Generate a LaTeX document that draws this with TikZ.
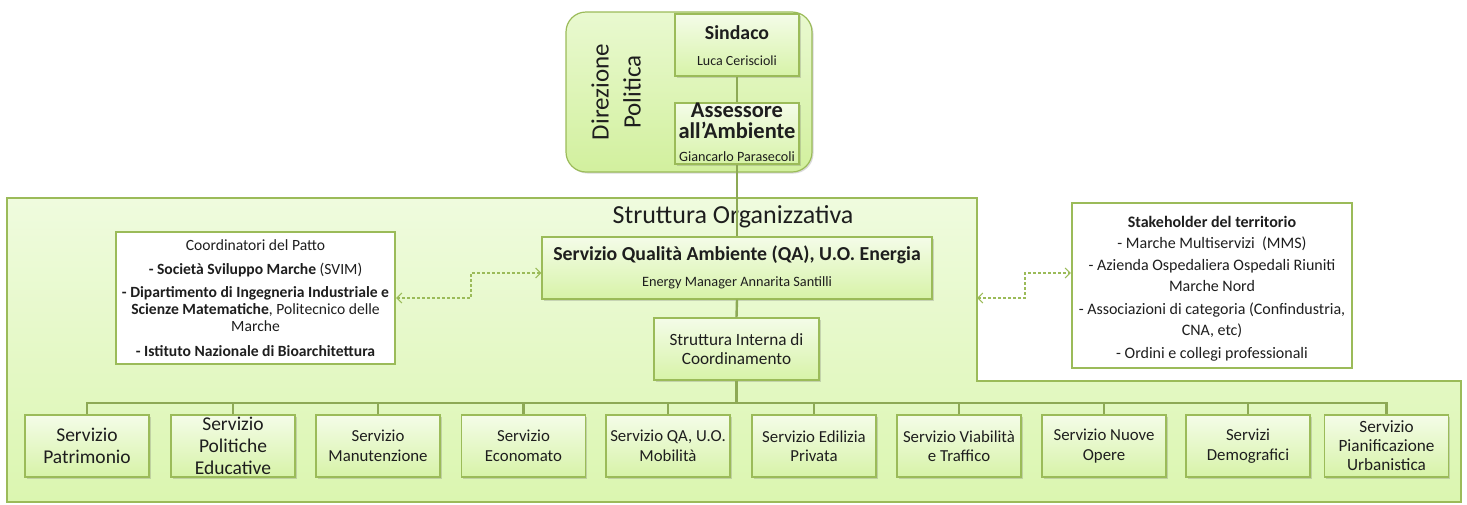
\documentclass[tikz,border=0pt]{standalone}
\usepackage{fontspec}
\setmainfont{Carlito}
\usetikzlibrary{arrows.meta,shadows}

\definecolor{ogreen}{HTML}{9BBB59}
\definecolor{linec}{HTML}{8DA955}
\definecolor{bgtop}{HTML}{EFFBDE}
\definecolor{bgbot}{HTML}{DBF6B0}
\definecolor{boxtop}{HTML}{F4FCE8}
\definecolor{boxbot}{HTML}{D7F3A8}
\definecolor{dirtop}{HTML}{E9F9D0}
\definecolor{dirbot}{HTML}{D2F09E}
\definecolor{txt}{HTML}{1E1E1E}

\newcommand\setfs[2]{\fontsize{#1}{#2}\selectfont}

\begin{document}
\begin{tikzpicture}[x=1pt,y=-1pt,
  stdbox/.style={draw=ogreen, line width=1.2pt, top color=boxtop, bottom color=boxbot,
    inner sep=0pt, align=center, text=txt,
    drop shadow={shadow xshift=1.5pt, shadow yshift=-1.5pt, opacity=0.25, fill=black!60}},
  unit/.style={stdbox, minimum width=124pt, minimum height=62pt, font=\setfs{16.8}{19.5}},
  bigunit/.style={unit, font=\setfs{19.5}{22}},
  infobox/.style={draw=ogreen, line width=2.2pt, fill=white, inner sep=0pt, align=center, text=txt},
  lbl/.style={inner sep=0pt, text=txt, align=center},
  link/.style={draw=linec, line width=1.4pt},
  bus/.style={draw=linec, line width=2.4pt},
  dasharrow/.style={draw=ogreen, line width=1.1pt, dash pattern=on 3pt off 2pt,
    {Straight Barb[length=5pt,width=10pt]}-{Straight Barb[length=5pt,width=10pt]}}
]
\useasboundingbox (0,0) rectangle (1467,504);

% organisational structure area
\path[draw=ogreen, line width=1.2pt, top color=bgtop, bottom color=bgbot]
  (7,198) -- (977,198) -- (977,381) -- (1461,381) -- (1461,502) -- (7,502) -- cycle;
\coordinate (notch) at (977,298);
\node[lbl, font=\setfs{26}{30}] (orgtitle) at (733,217) {Struttura Organizzativa};

% political direction
\node[draw=ogreen, line width=1.2pt, rounded corners=20pt, top color=dirtop, bottom color=dirbot,
  minimum width=246pt, minimum height=160pt, inner sep=0pt,
  drop shadow={shadow xshift=1.5pt, shadow yshift=-1.5pt, opacity=0.25, fill=black!60}]
  (dirpol) at (689,92) {};
\node[lbl, rotate=90, font=\setfs{25}{32}] (dirtxt) at (616,92) {Direzione\\Politica};

\node[stdbox, minimum width=124pt, minimum height=62pt] (sind) at (737,45) {};
\node[lbl, font=\setfs{19.8}{22}\bfseries] (sindt) at (737,33) {Sindaco};
\node[lbl, font=\setfs{14}{15}] (sindn) at (737,61) {Luca Ceriscioli};

\node[stdbox, minimum width=124pt, minimum height=61pt] (ass) at (737,133.5) {};
\node[lbl, font=\setfs{22.5}{21}\bfseries] (asst) at (737,121) {Assessore\\all’Ambiente};
\node[lbl, font=\setfs{14.2}{15}] (assn) at (737,157) {Giancarlo Parasecoli};

% environmental quality service
\node[stdbox, minimum width=390pt, minimum height=62pt] (qa) at (737,268) {};
\node[lbl, font=\setfs{19.8}{22}\bfseries] (qat) at (737,255) {Servizio Qualità Ambiente (QA), U.O. Energia};
\node[lbl, font=\setfs{14.3}{16}] (qan) at (737,283) {Energy Manager Annarita Santilli};

\node[stdbox, minimum width=165pt, minimum height=62pt, font=\setfs{17.2}{19}] (sic) at (736.5,349)
  {Struttura Interna di\\Coordinamento};

% partner boxes
\node[infobox, minimum width=279pt, minimum height=132pt, font=\setfs{15.6}{17}] (coord) at (255.5,298)
  {Coordinatori del Patto\\[7pt]
   \textbf{- Società Sviluppo Marche} (SVIM)\\[6.5pt]
   \textbf{- Dipartimento di Ingegneria Industriale e}\\
   \textbf{Scienze Matematiche}, Politecnico delle\\
   Marche\\[7.5pt]
   \textbf{- Istituto Nazionale di Bioarchitettura}};

\node[infobox, minimum width=280pt, minimum height=165pt] (stake) at (1212,285.5) {};
\node[lbl, font=\setfs{16}{21.5}] (staket) at (1212,288.5)
  {\textbf{Stakeholder del territorio}\\
   - Marche Multiservizi\ \ (MMS)\\
   - Azienda Ospedaliera Ospedali Riuniti\\
   Marche Nord\\[1pt]
   - Associazioni di categoria (Confindustria,\\
   CNA, etc)\\[1pt]
   - Ordini e collegi professionali};

% services
\node[bigunit] (c1) at (87,446) {Servizio\\Patrimonio};
\node[bigunit] (c2) at (233,446) {Servizio\\Politiche\\Educative};
\node[unit] (c3) at (378,446) {Servizio\\Manutenzione};
\node[unit] (c4) at (523.5,446) {Servizio\\Economato};
\node[unit] (c5) at (668,446) {Servizio QA, U.O.\\Mobilità};
\node[unit] (c6) at (814,446) {Servizio Edilizia\\Privata};
\node[unit] (c7) at (959,446) {Servizio Viabilità\\e Traffico};
\node[unit] (c8) at (1104,446) {Servizio Nuove\\Opere};
\node[unit] (c9) at (1248,446) {Servizi\\Demografici};
\node[unit, font=\setfs{17.2}{19}] (c10) at (1386.5,446) {Servizio\\Pianificazione\\Urbanistica};

% hierarchy connectors
\coordinate (busy) at (0,403);
\draw[link] (sind.south) -- (ass.north);
\draw[link] (ass.south) -- (qa.north);
\draw[bus] (qa.south) -- (sic.north);
\draw[bus] (sic.south) -- (sic.south |- busy);
\draw[bus] (c1.north) -- (c1.north |- busy) -- (c10.north |- busy) -- (c10.north);
\foreach \i in {2,...,9} \draw[bus] (c\i.north) -- (c\i.north |- busy);

% collaboration links
\coordinate (dl) at (471,285);
\coordinate (dr) at (1025,285);
\draw[dasharrow] (coord.east) -| (dl) |- ([yshift=-5pt]qa.west);
\draw[dasharrow] (notch) -| (dr) |- ([yshift=12.5pt]stake.west);
\end{tikzpicture}
\end{document}
